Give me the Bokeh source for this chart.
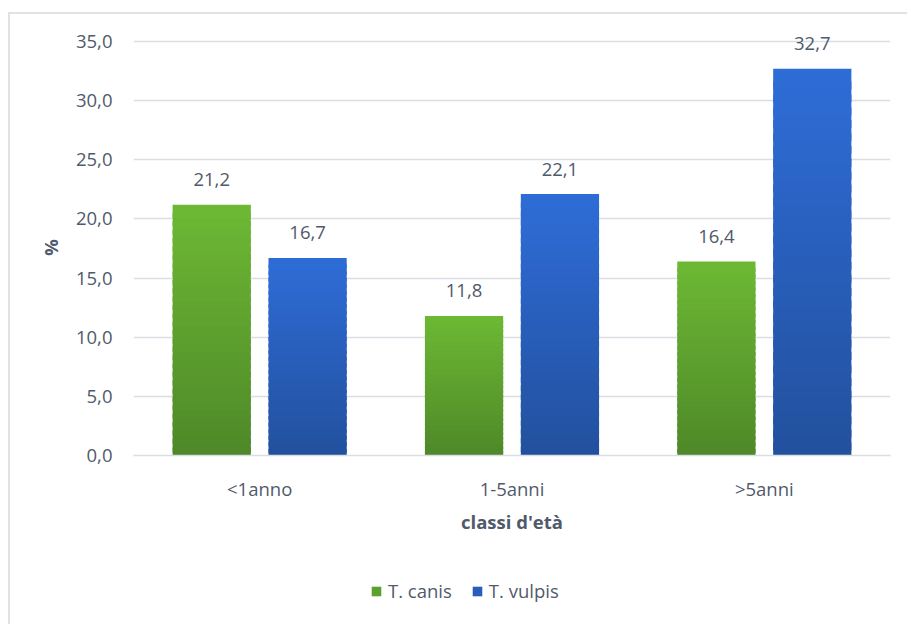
from bokeh.plotting import figure
from bokeh.layouts import column
from bokeh.models import ColumnDataSource, Legend, LegendItem, FixedTicker, LabelSet
from bokeh.transform import dodge
from bokeh.core.properties import value
from bokeh.embed import file_html
from bokeh.resources import INLINE

# Age classes and prevalence (%) per parasite species
categories = ["<1anno", "1-5anni", ">5anni"]
canis = [21.2, 11.8, 16.4]
vulpis = [16.7, 22.1, 32.7]
series_names = ["T. canis", "T. vulpis"]
y_ticks = [0, 5, 10, 15, 20, 25, 30, 35]
y_tick_labels = ["0,0", "5,0", "10,0", "15,0", "20,0", "25,0", "30,0", "35,0"]

FONT = "Open Sans"
FS = "18.5px"
TEXT = "#505a6b"
GRID = "#dadee4"
GREEN = ("#4e8728", "#6cb834")
BLUE = ("#22509c", "#2e6cd6")

# y range runs a little past the top gridline so the tallest label has room
p = figure(
    x_range=categories, y_range=(0, 37.2),
    frame_width=757, frame_height=440,
    output_backend="svg", toolbar_location=None,
    min_border_left=123, min_border_right=17,
    min_border_top=1, min_border_bottom=85,
    background_fill_color="white", border_fill_color="white",
    outline_line_color=None,
)


def hexrgb(h):
    return tuple(int(h[i:i + 2], 16) for i in (1, 3, 5))


def mix(c0, c1, f):
    a, b = hexrgb(c0), hexrgb(c1)
    return "#%02x%02x%02x" % tuple(round(a[k] + (b[k] - a[k]) * f) for k in range(3))


def gradient_bars(vals, colors, offset, steps=30):
    # each bar is filled as overlapping horizontal bands, darker at the base
    cat, bot, top, col = [], [], [], []
    for c, v in zip(categories, vals):
        for i in range(steps):
            cat.append(c)
            bot.append(max(0.0, v * (i - 0.6) / steps))
            top.append(v * (i + 1) / steps)
            col.append(mix(colors[0], colors[1], (i + 0.5) / steps))
    src = ColumnDataSource(dict(cat=cat, bottom=bot, top=top, color=col))
    p.vbar(x=dodge("cat", offset, range=p.x_range), bottom="bottom", top="top",
           width=0.31, fill_color="color", line_color=None, source=src)


gradient_bars(canis, GREEN, -0.19)
gradient_bars(vulpis, BLUE, 0.19)

# value labels above each bar
for vals, off in ((canis, -0.19), (vulpis, 0.19)):
    lsrc = ColumnDataSource(dict(
        cat=categories, y=vals,
        txt=[f"{v:.1f}".replace(".", ",") for v in vals],
    ))
    p.add_layout(LabelSet(
        x=dodge("cat", off, range=p.x_range), y="y", text="txt", source=lsrc,
        text_font=value(FONT), text_font_size=value(FS), text_color=value(TEXT),
        text_align="center", text_baseline="middle", y_offset=25))

# axes
p.yaxis.ticker = FixedTicker(ticks=y_ticks)
p.yaxis.major_label_overrides = {t: s for t, s in zip(y_ticks, y_tick_labels)}
p.yaxis.axis_line_color = None
p.yaxis.major_tick_line_color = None
p.yaxis.minor_tick_line_color = None
p.yaxis.major_label_standoff = 15
p.yaxis.major_label_text_font = FONT
p.yaxis.major_label_text_font_size = FS
p.yaxis.major_label_text_color = TEXT
# trailing no-break spaces keep the symbol centred on the 0-35 span
p.yaxis.axis_label = "%" + "\u00a0" * 5
p.yaxis.axis_label_text_font = FONT
p.yaxis.axis_label_text_font_style = "bold"
p.yaxis.axis_label_text_font_size = FS
p.yaxis.axis_label_text_color = TEXT
p.yaxis.axis_label_standoff = 10

p.xaxis.axis_line_color = GRID
p.xaxis.axis_line_width = 1.5
p.xaxis.major_tick_line_color = None
p.xaxis.minor_tick_line_color = None
p.xaxis.major_label_standoff = 14
p.xaxis.major_label_text_font = FONT
p.xaxis.major_label_text_font_size = FS
p.xaxis.major_label_text_color = TEXT
p.xaxis.axis_label = "classi d'età"
p.xaxis.axis_label_text_font = FONT
p.xaxis.axis_label_text_font_style = "bold"
p.xaxis.axis_label_text_font_size = FS
p.xaxis.axis_label_text_color = TEXT
p.xaxis.axis_label_standoff = 5

p.xgrid.grid_line_color = None
p.ygrid.grid_line_color = GRID
p.ygrid.grid_line_width = 1.5

# legend strip under the chart; swatch glyphs sit outside its visible range
leg = figure(width=897, height=84, output_backend="svg", toolbar_location=None,
             min_border=0, outline_line_color=None, x_range=(0, 1), y_range=(0, 1))
leg.axis.visible = False
leg.grid.visible = False
sw_canis = leg.quad(left=[5], right=[6], top=[6], bottom=[5],
                    fill_color=mix(*GREEN, 0.5), line_color=None)
sw_vulpis = leg.quad(left=[5], right=[6], top=[6], bottom=[5],
                     fill_color=mix(*BLUE, 0.5), line_color=None)
legend = Legend(
    items=[LegendItem(label=series_names[0], renderers=[sw_canis]),
           LegendItem(label=series_names[1], renderers=[sw_vulpis])],
    orientation="horizontal", location=(237, 21),
    label_text_font=FONT, label_text_font_size=FS, label_text_color=TEXT,
    glyph_width=12, glyph_height=12, label_standoff=6, spacing=19,
    border_line_color=None, background_fill_alpha=0, margin=0, padding=0,
)
leg.add_layout(legend)

page = column(p, leg, spacing=0)
page.margin = (12, 0, 0, 8)
page.styles = {"border-left": "2px solid #dfe3e8", "border-top": "2px solid #dfe3e8"}

open("out.html", "w").write(file_html(page, INLINE))
